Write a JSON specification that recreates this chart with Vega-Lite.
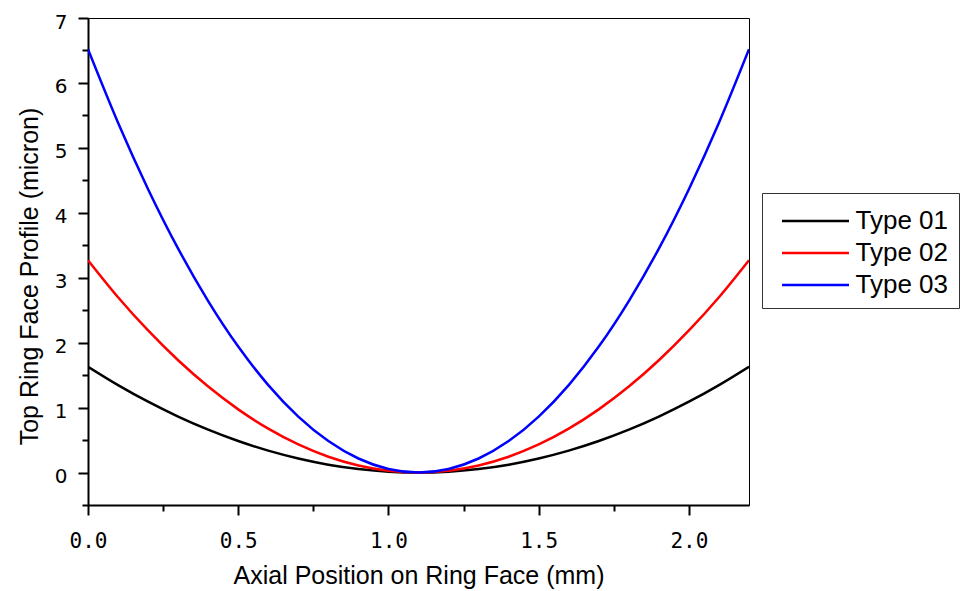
{
  "$schema": "https://vega.github.io/schema/vega-lite/v6.json",
  "autosize": "none",
  "padding": {"left": 88, "top": 18, "right": 221, "bottom": 86},
  "width": 661,
  "height": 487,
  "background": "#ffffff",
  "config": {
    "view": {"stroke": "#000000", "strokeWidth": 1},
    "axis": {"grid": false, "domainColor": "#000000", "domainWidth": 2, "tickColor": "#000000", "tickWidth": 2, "labelColor": "#000000", "titleColor": "#000000", "titleFont": "Liberation Sans", "titleFontSize": 25, "titleFontWeight": "normal"}
  },
  "data": {"values": [
    {"x": 0.0, "y": 1.63, "type": "Type 01"},
    {"x": 0.1, "y": 1.347, "type": "Type 01"},
    {"x": 0.2, "y": 1.091, "type": "Type 01"},
    {"x": 0.3, "y": 0.862, "type": "Type 01"},
    {"x": 0.4, "y": 0.660, "type": "Type 01"},
    {"x": 0.5, "y": 0.485, "type": "Type 01"},
    {"x": 0.6, "y": 0.337, "type": "Type 01"},
    {"x": 0.7, "y": 0.216, "type": "Type 01"},
    {"x": 0.8, "y": 0.121, "type": "Type 01"},
    {"x": 0.9, "y": 0.054, "type": "Type 01"},
    {"x": 1.0, "y": 0.013, "type": "Type 01"},
    {"x": 1.1, "y": 0.0, "type": "Type 01"},
    {"x": 1.2, "y": 0.013, "type": "Type 01"},
    {"x": 1.3, "y": 0.054, "type": "Type 01"},
    {"x": 1.4, "y": 0.121, "type": "Type 01"},
    {"x": 1.5, "y": 0.216, "type": "Type 01"},
    {"x": 1.6, "y": 0.337, "type": "Type 01"},
    {"x": 1.7, "y": 0.485, "type": "Type 01"},
    {"x": 1.8, "y": 0.660, "type": "Type 01"},
    {"x": 1.9, "y": 0.862, "type": "Type 01"},
    {"x": 2.0, "y": 1.091, "type": "Type 01"},
    {"x": 2.1, "y": 1.347, "type": "Type 01"},
    {"x": 2.2, "y": 1.63, "type": "Type 01"},
    {"x": 0.0, "y": 3.27, "type": "Type 02"},
    {"x": 0.1, "y": 2.70, "type": "Type 02"},
    {"x": 0.2, "y": 2.188, "type": "Type 02"},
    {"x": 0.3, "y": 1.729, "type": "Type 02"},
    {"x": 0.4, "y": 1.324, "type": "Type 02"},
    {"x": 0.5, "y": 0.973, "type": "Type 02"},
    {"x": 0.6, "y": 0.676, "type": "Type 02"},
    {"x": 0.7, "y": 0.432, "type": "Type 02"},
    {"x": 0.8, "y": 0.243, "type": "Type 02"},
    {"x": 0.9, "y": 0.108, "type": "Type 02"},
    {"x": 1.0, "y": 0.027, "type": "Type 02"},
    {"x": 1.1, "y": 0.0, "type": "Type 02"},
    {"x": 1.2, "y": 0.027, "type": "Type 02"},
    {"x": 1.3, "y": 0.108, "type": "Type 02"},
    {"x": 1.4, "y": 0.243, "type": "Type 02"},
    {"x": 1.5, "y": 0.432, "type": "Type 02"},
    {"x": 1.6, "y": 0.676, "type": "Type 02"},
    {"x": 1.7, "y": 0.973, "type": "Type 02"},
    {"x": 1.8, "y": 1.324, "type": "Type 02"},
    {"x": 1.9, "y": 1.729, "type": "Type 02"},
    {"x": 2.0, "y": 2.188, "type": "Type 02"},
    {"x": 2.1, "y": 2.70, "type": "Type 02"},
    {"x": 2.2, "y": 3.27, "type": "Type 02"},
    {"x": 0.0, "y": 6.52, "type": "Type 03"},
    {"x": 0.1, "y": 5.388, "type": "Type 03"},
    {"x": 0.2, "y": 4.364, "type": "Type 03"},
    {"x": 0.3, "y": 3.448, "type": "Type 03"},
    {"x": 0.4, "y": 2.641, "type": "Type 03"},
    {"x": 0.5, "y": 1.940, "type": "Type 03"},
    {"x": 0.6, "y": 1.347, "type": "Type 03"},
    {"x": 0.7, "y": 0.862, "type": "Type 03"},
    {"x": 0.8, "y": 0.485, "type": "Type 03"},
    {"x": 0.9, "y": 0.216, "type": "Type 03"},
    {"x": 1.0, "y": 0.054, "type": "Type 03"},
    {"x": 1.1, "y": 0.0, "type": "Type 03"},
    {"x": 1.2, "y": 0.054, "type": "Type 03"},
    {"x": 1.3, "y": 0.216, "type": "Type 03"},
    {"x": 1.4, "y": 0.485, "type": "Type 03"},
    {"x": 1.5, "y": 0.862, "type": "Type 03"},
    {"x": 1.6, "y": 1.347, "type": "Type 03"},
    {"x": 1.7, "y": 1.940, "type": "Type 03"},
    {"x": 1.8, "y": 2.641, "type": "Type 03"},
    {"x": 1.9, "y": 3.448, "type": "Type 03"},
    {"x": 2.0, "y": 4.364, "type": "Type 03"},
    {"x": 2.1, "y": 5.388, "type": "Type 03"},
    {"x": 2.2, "y": 6.52, "type": "Type 03"}
  ]},
  "mark": {"type": "line", "interpolate": "monotone", "strokeWidth": 2.5, "clip": true},
  "encoding": {
    "x": {
      "field": "x", "type": "quantitative",
      "scale": {"domain": [0, 2.2], "nice": false, "zero": false},
      "axis": {
        "title": "Axial Position on Ring Face (mm)",
        "values": [0, 0.25, 0.5, 0.75, 1.0, 1.25, 1.5, 1.75, 2.0],
        "labelExpr": "abs(datum.value*2 - round(datum.value*2)) < 0.001 ? format(datum.value, '.1f') : ''",
        "tickSize": {"condition": {"test": "abs(datum.value*2 - round(datum.value*2)) < 0.001", "value": 10}, "value": 6},
        "labelFont": "DejaVu Sans Mono",
        "labelFontSize": 21,
        "labelBaseline": "alphabetic",
        "labelPadding": 32,
        "labelFlush": false,
        "labelOverlap": false,
        "titleBaseline": "alphabetic",
        "titleY": 78
      }
    },
    "y": {
      "field": "y", "type": "quantitative",
      "scale": {"domain": [-0.5, 7], "nice": false, "zero": false},
      "axis": {
        "title": "Top Ring Face Profile (micron)",
        "values": [-0.5, 0, 0.5, 1, 1.5, 2, 2.5, 3, 3.5, 4, 4.5, 5, 5.5, 6, 6.5, 7],
        "labelExpr": "abs(datum.value - round(datum.value)) < 0.001 ? format(datum.value, 'd') : ''",
        "tickSize": {"condition": {"test": "abs(datum.value - round(datum.value)) < 0.001", "value": 10}, "value": 6},
        "labelFont": "DejaVu Sans",
        "labelFontSize": 20,
        "labelPadding": 11,
        "labelOffset": 4,
        "labelFlush": false,
        "labelOverlap": false,
        "titleAngle": -90,
        "titleBaseline": "alphabetic",
        "titleX": -51,
        "titleY": 258
      }
    },
    "color": {
      "field": "type", "type": "nominal",
      "scale": {"domain": ["Type 01", "Type 02", "Type 03"], "range": ["#000000", "#ff0000", "#0000ff"]},
      "legend": {
        "title": null,
        "orient": "none",
        "legendX": 674,
        "legendY": 175,
        "symbolType": "M-2,0H2",
        "symbolSize": 1122,
        "symbolStrokeWidth": 2.5,
        "symbolOffset": 25.5,
        "labelFont": "Liberation Sans",
        "labelFontSize": 26,
        "labelColor": "#000000",
        "labelOffset": 22,
        "labelLimit": 0,
        "rowPadding": 1,
        "padding": 10,
        "strokeColor": "#333333",
        "fillColor": "#ffffff"
      }
    }
  }
}
